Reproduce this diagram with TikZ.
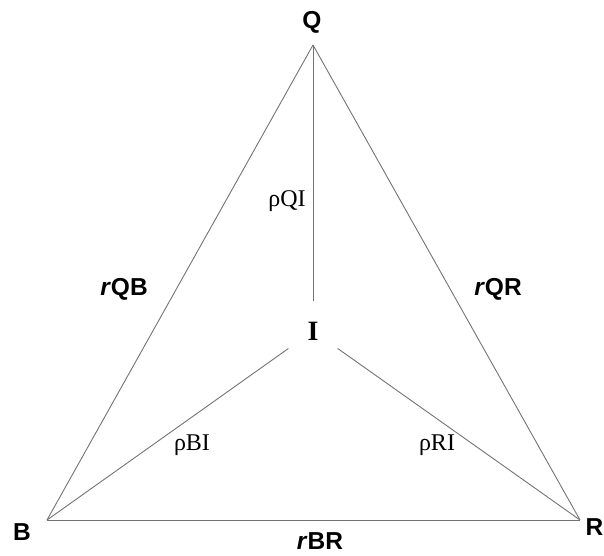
\documentclass[tikz,border=0pt]{standalone}
\usepackage{fontspec}
\setmainfont{Liberation Serif}
\setsansfont{Liberation Sans}
\begin{document}
\begin{tikzpicture}[x=1pt,y=-1pt,
  edge/.style={draw=black!55, line width=0.9pt},
  sidelabel/.style={font=\sffamily\bfseries\fontsize{24.5}{24.5}\selectfont, inner sep=0},
  rholabel/.style={font=\rmfamily\fontsize{24}{24}\selectfont, inner sep=0},
  hub/.style={circle, minimum size=60pt, inner sep=0, font=\rmfamily\bfseries\fontsize{28}{28}\selectfont}]
\useasboundingbox (0,0) rectangle (604,555);
% triangle corners
\coordinate (Q) at (313,45);
\coordinate (B) at (47,520);
\coordinate (R) at (580,520);
% centre point
\node[hub] (I) at (313,331) {I};
% outer sides
\draw[edge] (Q) -- (B);
\draw[edge] (Q) -- (R);
\draw[edge] (B) -- (R);
% spokes to the centre
\draw[edge] (Q) -- (I);
\draw[edge] (B) -- (I);
\draw[edge] (R) -- (I);
% corner labels
\node[sidelabel] (lQ) at (312,22) {Q};
\node[sidelabel] (lB) at (22,532) {B};
\node[sidelabel, anchor=east] (lR) at (603.5,527) {R};
% side labels
\node[sidelabel] (lQB) at (124,289) {\textit{r}QB};
\node[sidelabel] (lQR) at (498,289) {\textit{r}QR};
\node[sidelabel] (lBR) at (320,541) {\textit{r}BR};
% spoke labels
\node[rholabel] (lQI) at (287,201) {ρQI};
\node[rholabel] (lBI) at (192,445) {ρBI};
\node[rholabel] (lRI) at (437,445) {ρRI};
\end{tikzpicture}
\end{document}
